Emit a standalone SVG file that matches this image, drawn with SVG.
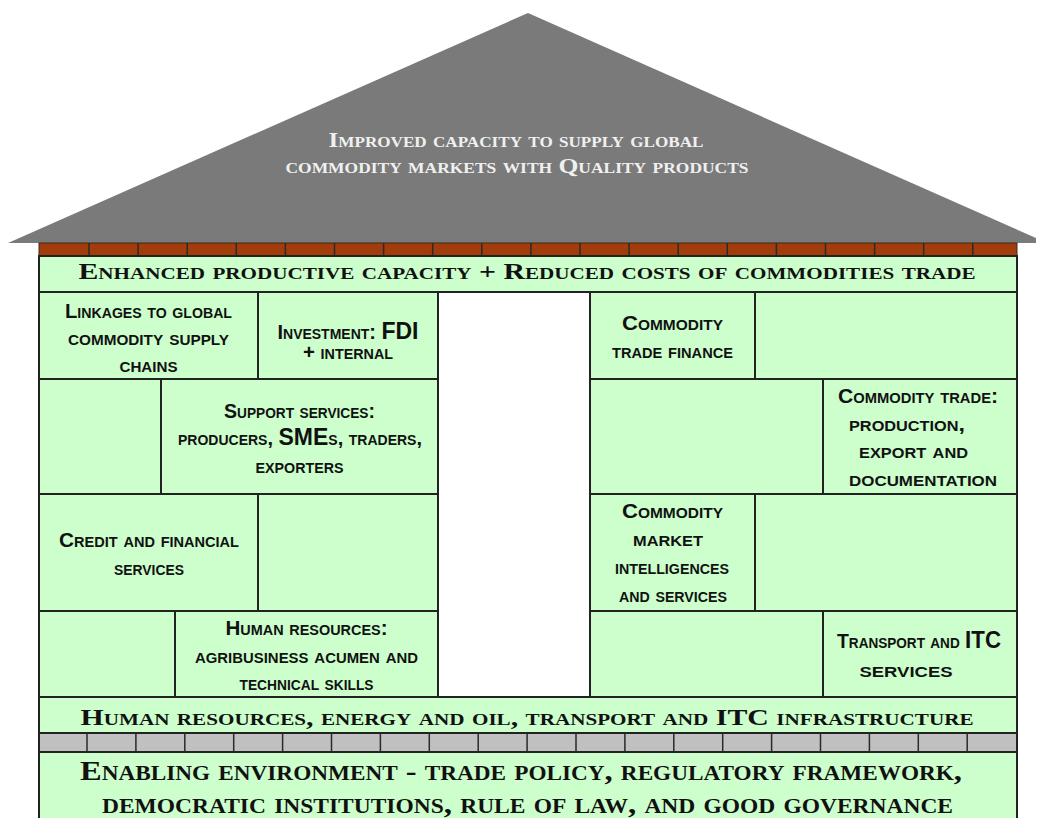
<svg xmlns="http://www.w3.org/2000/svg" width="1038" height="818" viewBox="0 0 1038 818">
<style>
.cell{fill:#ccffcc;stroke:#222;stroke-width:2}
.s{font-family:"Liberation Sans",Arial,sans-serif;font-weight:bold;font-size:20px;font-variant:small-caps;fill:#111;text-anchor:middle}
.b{font-size:23px}
.r{font-family:"Liberation Serif","Times New Roman",serif;font-weight:bold;font-variant:small-caps;fill:#111;text-anchor:middle}
.roof{font-family:"Liberation Serif","Times New Roman",serif;font-weight:bold;font-size:22px;font-variant:small-caps;fill:#f0f0f0;text-anchor:middle}
.tick{stroke:#2a2a2a;stroke-width:1.5}
</style>
<rect width="1038" height="818" fill="#fff"/>
<g id="roof">
<polygon points="8,243 528,13 1036,238 1036,243" fill="#7a7a7a"/>
<text class="roof" x="516" y="147" textLength="375" lengthAdjust="spacingAndGlyphs">Improved capacity to supply global</text>
<text class="roof" x="517" y="173" textLength="463" lengthAdjust="spacingAndGlyphs">commodity markets with Quality products</text>
</g>
<g id="bricks">
<rect x="39" y="243" width="978" height="13" fill="#a33c0b" stroke="#3a2a1a" stroke-width="1"/>
<path class="tick" d="M89 243v13M138.1 243v13M187.2 243v13M236.3 243v13M285.4 243v13M334.5 243v13M383.6 243v13M432.7 243v13M481.8 243v13M530.9 243v13M580 243v13M629.1 243v13M678.2 243v13M727.3 243v13M776.4 243v13M825.5 243v13M874.6 243v13M923.7 243v13M972.8 243v13"/>
</g>
<g id="header">
<rect class="cell" x="39" y="256" width="978" height="36"/>
<text class="r" x="527" y="279" font-size="24" textLength="897" lengthAdjust="spacingAndGlyphs">Enhanced productive capacity + Reduced costs of commodities trade</text>
</g>
<g id="linkages">
<rect class="cell" x="39" y="292" width="219" height="87"/>
<text class="s" x="148.5" y="318" textLength="167" lengthAdjust="spacingAndGlyphs">Linkages to global</text>
<text class="s" x="148.5" y="345" textLength="161" lengthAdjust="spacingAndGlyphs">commodity supply</text>
<text class="s" x="148.5" y="372" textLength="58" lengthAdjust="spacingAndGlyphs">chains</text>
</g>
<g id="investment">
<rect class="cell" x="258" y="292" width="180" height="87"/>
<text class="s" x="348" y="339" textLength="141" lengthAdjust="spacingAndGlyphs">Investment: <tspan class="b">FDI</tspan></text>
<text class="s" x="348" y="359" textLength="90" lengthAdjust="spacingAndGlyphs">+ internal</text>
</g>
<g id="left-r2-empty"><rect class="cell" x="39" y="379" width="122" height="115"/></g>
<g id="support">
<rect class="cell" x="161" y="379" width="277" height="115"/>
<text class="s" x="299.5" y="418" textLength="151" lengthAdjust="spacingAndGlyphs">Support services:</text>
<text class="s" x="300" y="445" textLength="244" lengthAdjust="spacingAndGlyphs">producers, <tspan class="b">SME</tspan>s, traders,</text>
<text class="s" x="299.5" y="473" textLength="88" lengthAdjust="spacingAndGlyphs">exporters</text>
</g>
<g id="credit">
<rect class="cell" x="39" y="494" width="219" height="117"/>
<text class="s" x="149" y="547" textLength="180" lengthAdjust="spacingAndGlyphs">Credit and financial</text>
<text class="s" x="149" y="575" textLength="70" lengthAdjust="spacingAndGlyphs">services</text>
</g>
<g id="left-r3-empty"><rect class="cell" x="258" y="494" width="180" height="117"/></g>
<g id="left-r4-empty"><rect class="cell" x="39" y="611" width="136" height="86"/></g>
<g id="human">
<rect class="cell" x="175" y="611" width="263" height="86"/>
<text class="s" x="306.5" y="635" textLength="162" lengthAdjust="spacingAndGlyphs">Human resources:</text>
<text class="s" x="306.5" y="663" textLength="223" lengthAdjust="spacingAndGlyphs">agribusiness acumen and</text>
<text class="s" x="306.5" y="690" textLength="134" lengthAdjust="spacingAndGlyphs">technical skills</text>
</g>
<g id="trade-finance">
<rect class="cell" x="590" y="292" width="165" height="87"/>
<text class="s" x="672.5" y="330" textLength="101" lengthAdjust="spacingAndGlyphs">Commodity</text>
<text class="s" x="672.5" y="358" textLength="121" lengthAdjust="spacingAndGlyphs">trade finance</text>
</g>
<g id="right-r1-empty"><rect class="cell" x="755" y="292" width="262" height="87"/></g>
<g id="right-r2-empty"><rect class="cell" x="590" y="379" width="233" height="115"/></g>
<g id="commodity-trade">
<rect class="cell" x="823" y="379" width="194" height="115"/>
<text class="s" x="918" y="403" textLength="160" lengthAdjust="spacingAndGlyphs">Commodity trade:</text>
<text class="s" x="907" y="431" textLength="116" lengthAdjust="spacingAndGlyphs">production,</text>
<text class="s" x="913.5" y="458" textLength="109" lengthAdjust="spacingAndGlyphs">export and</text>
<text class="s" x="923" y="486" textLength="148" lengthAdjust="spacingAndGlyphs">documentation</text>
</g>
<g id="market-intelligence">
<rect class="cell" x="590" y="494" width="165" height="117"/>
<text class="s" x="672.5" y="518" textLength="101" lengthAdjust="spacingAndGlyphs">Commodity</text>
<text class="s" x="668" y="546" textLength="70" lengthAdjust="spacingAndGlyphs">market</text>
<text class="s" x="672" y="574" textLength="114" lengthAdjust="spacingAndGlyphs">intelligences</text>
<text class="s" x="673" y="602" textLength="108" lengthAdjust="spacingAndGlyphs">and services</text>
</g>
<g id="right-r3-empty"><rect class="cell" x="755" y="494" width="262" height="117"/></g>
<g id="right-r4-empty"><rect class="cell" x="590" y="611" width="233" height="86"/></g>
<g id="transport">
<rect class="cell" x="823" y="611" width="194" height="86"/>
<text class="s" x="919" y="648" textLength="164" lengthAdjust="spacingAndGlyphs">Transport and <tspan class="b">ITC</tspan></text>
<text class="s" x="906" y="677" textLength="93" lengthAdjust="spacingAndGlyphs">services</text>
</g>
<g id="infrastructure">
<rect class="cell" x="39" y="697" width="978" height="36"/>
<text class="r" x="527" y="725" font-size="24" textLength="893" lengthAdjust="spacingAndGlyphs">Human resources, energy and oil, transport and ITC infrastructure</text>
</g>
<g id="foundation-strip">
<rect x="39" y="733" width="978" height="19" fill="#c0c0c0" stroke="#222" stroke-width="2"/>
<path class="tick" d="M87 733v19M135.9 733v19M184.8 733v19M233.7 733v19M282.6 733v19M331.5 733v19M380.4 733v19M429.3 733v19M478.2 733v19M527.1 733v19M576 733v19M624.9 733v19M673.8 733v19M722.7 733v19M771.6 733v19M820.5 733v19M869.4 733v19M918.3 733v19M967.2 733v19"/>
</g>
<g id="enabling-environment">
<rect class="cell" x="39" y="752" width="978" height="80"/>
<text class="r" x="521" y="780" font-size="28" textLength="882" lengthAdjust="spacingAndGlyphs">Enabling environment - trade policy, regulatory framework,</text>
<text class="r" x="527.5" y="813" font-size="28" textLength="851" lengthAdjust="spacingAndGlyphs">democratic institutions, rule of law, and good governance</text>
</g>
</svg>
